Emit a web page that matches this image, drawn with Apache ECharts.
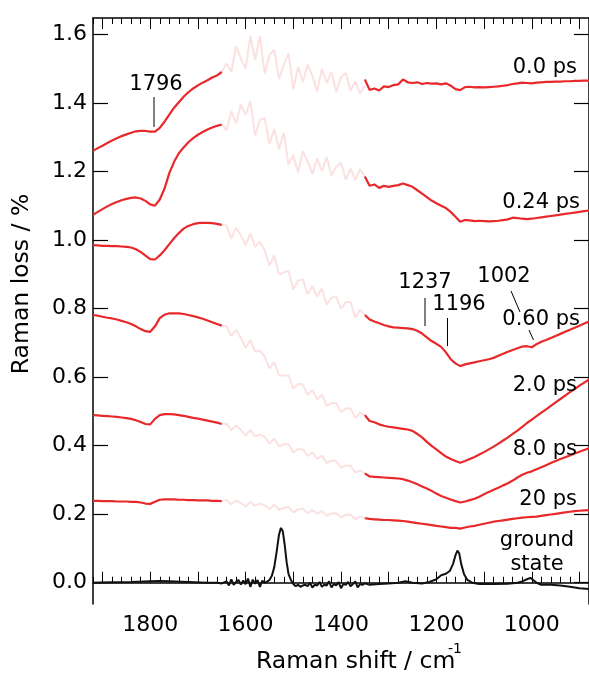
<!DOCTYPE html>
<html>
<head>
<meta charset="utf-8">
<script src="https://cdn.jsdelivr.net/npm/echarts@6/dist/echarts.min.js"></script>
<style>html,body{margin:0;padding:0;background:#fff}#c{width:589px;height:674px}</style>
</head>
<body>
<div id="c"></div>
<script>
// ---- wavenumber grids (cm-1) ----
const xLeft = [1920,1910,1900,1890,1880,1870,1860,1850,1840,1830,1820,1810,1800,1790,1780,1770,1760,1750,1740,1730,1720,1710,1700,1690,1680,1670,1660,1650];
const xMid = [1650,1640,1630,1620,1610,1600,1590,1580,1570,1560,1550,1540,1530,1520,1510,1500,1490,1480,1470,1460,1450,1440,1430,1420,1410,1400,1390,1380,1370,1360,1350];
const xRight = [1350,1340,1330,1320,1310,1300,1290,1280,1270,1260,1250,1240,1230,1220,1210,1200,1190,1180,1170,1160,1150,1140,1130,1120,1110,1100,1090,1080,1070,1060,1050,1040,1030,1020,1010,1000,990,980,970,960,950,940,930,920,910,900,890,880];

// ---- 0.0 ps ----
const ps00Left = [1.260,1.268,1.275,1.283,1.290,1.297,1.303,1.308,1.313,1.317,1.318,1.318,1.316,1.316,1.327,1.345,1.366,1.386,1.402,1.418,1.431,1.442,1.451,1.459,1.466,1.474,1.480,1.490];
const ps00Mid = [1.49,1.515,1.49,1.565,1.53,1.50,1.595,1.525,1.595,1.485,1.54,1.555,1.47,1.51,1.545,1.44,1.505,1.46,1.512,1.479,1.432,1.50,1.458,1.49,1.432,1.475,1.487,1.435,1.463,1.427,1.45];
const ps00Right = [1.468,1.438,1.442,1.436,1.448,1.446,1.452,1.454,1.468,1.460,1.458,1.460,1.455,1.458,1.456,1.457,1.454,1.457,1.450,1.440,1.437,1.446,1.447,1.445,1.446,1.445,1.446,1.447,1.448,1.450,1.452,1.455,1.457,1.459,1.458,1.457,1.459,1.460,1.461,1.461,1.462,1.462,1.463,1.463,1.464,1.464,1.465,1.465];

// ---- 0.24 ps ----
const ps024Left = [1.073,1.082,1.090,1.098,1.105,1.111,1.116,1.120,1.123,1.124,1.121,1.114,1.104,1.100,1.118,1.150,1.195,1.228,1.253,1.270,1.285,1.297,1.307,1.315,1.322,1.328,1.333,1.337];
const ps024Mid = [1.337,1.32,1.375,1.34,1.395,1.365,1.405,1.305,1.35,1.355,1.28,1.323,1.265,1.312,1.22,1.248,1.197,1.258,1.23,1.192,1.238,1.20,1.242,1.188,1.214,1.225,1.176,1.208,1.175,1.207,1.185];
const ps024Right = [1.185,1.158,1.162,1.152,1.158,1.155,1.158,1.160,1.165,1.160,1.155,1.145,1.135,1.125,1.115,1.107,1.100,1.093,1.082,1.068,1.053,1.058,1.057,1.055,1.056,1.055,1.054,1.055,1.056,1.058,1.060,1.065,1.064,1.062,1.061,1.062,1.064,1.066,1.068,1.070,1.072,1.074,1.076,1.078,1.080,1.082,1.084,1.086];

// ---- 0.60 ps ----
const ps060Left = [0.985,0.984,0.983,0.983,0.982,0.982,0.981,0.980,0.978,0.973,0.965,0.954,0.944,0.943,0.955,0.970,0.988,1.005,1.020,1.033,1.041,1.046,1.049,1.050,1.050,1.049,1.047,1.044];
const ps060Mid = [1.044,1.042,1.005,1.035,1.015,0.985,1.02,0.98,0.995,0.97,0.925,0.955,0.90,0.905,0.91,0.855,0.882,0.885,0.841,0.865,0.835,0.858,0.812,0.831,0.835,0.799,0.818,0.82,0.773,0.797,0.781];
const ps060Right = [0.781,0.768,0.762,0.757,0.752,0.748,0.745,0.744,0.743,0.742,0.740,0.735,0.727,0.716,0.705,0.697,0.688,0.672,0.652,0.640,0.632,0.637,0.640,0.643,0.646,0.649,0.652,0.656,0.662,0.668,0.674,0.679,0.684,0.689,0.690,0.687,0.696,0.703,0.708,0.714,0.720,0.726,0.732,0.738,0.744,0.750,0.756,0.762];

// ---- 2.0 ps ----
const ps20Left = [0.781,0.779,0.776,0.773,0.771,0.768,0.764,0.760,0.755,0.748,0.740,0.734,0.732,0.748,0.772,0.782,0.786,0.786,0.786,0.784,0.781,0.778,0.774,0.770,0.765,0.760,0.755,0.750];
const ps20Mid = [0.75,0.748,0.72,0.737,0.715,0.685,0.708,0.674,0.677,0.66,0.625,0.644,0.605,0.604,0.606,0.566,0.58,0.578,0.548,0.562,0.534,0.549,0.516,0.524,0.524,0.498,0.508,0.509,0.481,0.496,0.489];
const ps20Right = [0.489,0.472,0.468,0.462,0.458,0.455,0.453,0.451,0.449,0.447,0.443,0.434,0.424,0.411,0.399,0.389,0.378,0.368,0.361,0.355,0.350,0.355,0.361,0.367,0.374,0.381,0.389,0.397,0.406,0.415,0.424,0.434,0.444,0.455,0.466,0.476,0.486,0.496,0.506,0.516,0.526,0.536,0.546,0.556,0.565,0.575,0.584,0.593];

// ---- 8.0 ps ----
const ps80Left = [0.489,0.488,0.487,0.486,0.485,0.484,0.482,0.480,0.478,0.474,0.469,0.463,0.462,0.478,0.489,0.492,0.492,0.491,0.489,0.487,0.484,0.481,0.479,0.476,0.473,0.470,0.467,0.463];
const ps80Mid = [0.463,0.464,0.445,0.459,0.446,0.429,0.446,0.426,0.433,0.425,0.405,0.421,0.398,0.404,0.405,0.38,0.39,0.389,0.37,0.38,0.362,0.371,0.349,0.356,0.355,0.336,0.342,0.341,0.321,0.328,0.319];
const ps80Right = [0.319,0.310,0.309,0.308,0.307,0.306,0.305,0.304,0.302,0.298,0.293,0.287,0.281,0.275,0.268,0.260,0.253,0.248,0.243,0.238,0.234,0.237,0.241,0.245,0.251,0.258,0.265,0.271,0.277,0.284,0.290,0.298,0.307,0.315,0.321,0.325,0.331,0.337,0.343,0.349,0.355,0.361,0.366,0.371,0.377,0.382,0.387,0.392];

// ---- 20 ps ----
const ps200Left = [0.239,0.239,0.238,0.238,0.238,0.237,0.237,0.237,0.236,0.236,0.234,0.231,0.230,0.236,0.242,0.243,0.243,0.243,0.242,0.242,0.241,0.241,0.240,0.240,0.240,0.239,0.239,0.238];
const ps200Mid = [0.238,0.241,0.229,0.24,0.232,0.223,0.236,0.224,0.231,0.226,0.214,0.228,0.213,0.218,0.221,0.205,0.214,0.216,0.203,0.212,0.201,0.209,0.195,0.202,0.203,0.191,0.198,0.199,0.185,0.193,0.188];
const ps200Right = [0.188,0.186,0.185,0.184,0.183,0.183,0.182,0.181,0.180,0.178,0.176,0.174,0.172,0.170,0.168,0.166,0.164,0.162,0.160,0.160,0.158,0.161,0.164,0.166,0.169,0.172,0.175,0.178,0.180,0.182,0.184,0.186,0.188,0.190,0.191,0.192,0.193,0.195,0.197,0.199,0.201,0.203,0.205,0.207,0.209,0.210,0.211,0.212];

// ---- ground state [wavenumber, value] ----
const groundState = [[1920,0.0],[1880,0.001],[1840,0.002],[1800,0.004],[1780,0.005],[1760,0.004],[1720,0.002],[1680,0.0],[1660,0.0],[1650,-0.002],[1640,0.004],[1635,-0.008],[1630,0.01],[1625,-0.006],[1620,0.002],[1615,0.008],[1610,-0.005],[1605,0.006],[1600,-0.004],[1595,0.012],[1590,-0.012],[1585,0.009],[1580,-0.003],[1575,0.008],[1570,-0.012],[1565,0.006],[1560,0.0],[1555,0.003],[1550,0.008],[1545,0.02],[1540,0.045],[1535,0.09],[1530,0.14],[1526,0.16],[1522,0.15],[1518,0.11],[1514,0.06],[1510,0.025],[1505,0.008],[1500,-0.004],[1495,-0.01],[1490,-0.006],[1485,-0.012],[1480,-0.008],[1475,-0.006],[1470,-0.01],[1465,0.0],[1460,-0.014],[1455,-0.006],[1450,-0.008],[1445,0.002],[1440,-0.012],[1435,-0.006],[1430,-0.008],[1425,0.004],[1420,-0.014],[1415,-0.004],[1410,-0.008],[1405,0.002],[1400,-0.016],[1395,-0.004],[1390,-0.006],[1385,0.002],[1380,-0.01],[1375,-0.004],[1370,0.004],[1365,-0.014],[1360,-0.004],[1355,-0.006],[1350,-0.002],[1340,-0.006],[1320,-0.004],[1300,-0.002],[1280,0.0],[1265,0.004],[1250,0.0],[1230,-0.002],[1215,0.002],[1200,0.01],[1190,0.022],[1180,0.026],[1172,0.034],[1165,0.055],[1160,0.08],[1156,0.094],[1152,0.085],[1148,0.055],[1142,0.025],[1135,0.008],[1125,0.0],[1110,-0.004],[1080,-0.004],[1050,-0.003],[1030,0.0],[1020,0.004],[1010,0.01],[1003,0.014],[997,0.008],[990,0.0],[980,-0.006],[960,-0.006],[940,-0.008],[920,-0.012],[900,-0.016],[880,-0.018]];

// ---- ticks ----
const xLabelTicks = [1000,1200,1400,1600,1800];
const xMajorTicks = [900,1000,1100,1200,1300,1400,1500,1600,1700,1800,1900];
const yTicks = [0,0.2,0.4,0.6,0.8,1.0,1.2,1.4,1.6];

const traces = [
  {name:'0.0 ps', left:ps00Left, mid:ps00Mid, right:ps00Right},
  {name:'0.24 ps', left:ps024Left, mid:ps024Mid, right:ps024Right},
  {name:'0.60 ps', left:ps060Left, mid:ps060Mid, right:ps060Right},
  {name:'2.0 ps', left:ps20Left, mid:ps20Mid, right:ps20Right},
  {name:'8.0 ps', left:ps80Left, mid:ps80Mid, right:ps80Right},
  {name:'20 ps', left:ps200Left, mid:ps200Mid, right:ps200Right}
];

const RED = '#e8282b', PINK = '#fbe1e1', BLACK = '#111';
const FONT = 'DejaVu Sans';
const zip = (xs, ys) => xs.map((x, i) => [x, ys[i]]);

const series = [];
traces.forEach(t => {
  series.push({type:'line', name:t.name+' mid', data:zip(xMid, t.mid), showSymbol:false, lineStyle:{color:PINK, width:2}, z:1, silent:true});
});
traces.forEach(t => {
  series.push({type:'line', name:t.name, data:zip(xLeft, t.left), showSymbol:false, lineStyle:{color:RED, width:2.2}, z:3, silent:true});
  series.push({type:'line', name:t.name+' r', data:zip(xRight, t.right), showSymbol:false, lineStyle:{color:RED, width:2.2}, z:3, silent:true});
});
series.push({type:'line', name:'ground state', data:groundState, showSymbol:false, lineStyle:{color:BLACK, width:2}, z:3, silent:true});

const XMIN = 880, XMAX = 1920, YMIN = -0.0621, YMAX = 1.6476;
const axLine = {show:true, lineStyle:{color:'#000', width:1.5}};
const baseX = {type:'value', min:XMIN, max:XMAX, inverse:true, splitLine:{show:false}, gridIndex:0};

const chart = echarts.init(document.getElementById('c'), null, {renderer:'canvas'});
chart.setOption({
  animation:false,
  backgroundColor:'#fff',
  grid:{left:93, top:18, width:505, height:586},
  xAxis:[
    Object.assign({}, baseX, {position:'bottom', interval:20, axisLine:axLine,
      axisTick:{inside:true, length:6, lineStyle:{color:'#000', width:1}},
      axisLabel:{customValues:xLabelTicks, formatter:v=>String(Math.round(v)), fontFamily:FONT, fontSize:22, color:'#000', margin:10}}),
    Object.assign({}, baseX, {position:'bottom', axisLine:{show:false},
      axisTick:{inside:true, length:11, customValues:xMajorTicks, lineStyle:{color:'#000', width:1}},
      axisLabel:{show:false}}),
    Object.assign({}, baseX, {position:'top', interval:20, axisLine:axLine,
      axisTick:{inside:true, length:6, lineStyle:{color:'#000', width:1}},
      axisLabel:{show:false}}),
    Object.assign({}, baseX, {position:'top', axisLine:{show:false},
      axisTick:{inside:true, length:11, customValues:xMajorTicks, lineStyle:{color:'#000', width:1}},
      axisLabel:{show:false}})
  ],
  yAxis:[
    {type:'value', min:YMIN, max:YMAX, position:'left', splitLine:{show:false}, axisLine:axLine,
      axisTick:{inside:true, length:15, customValues:yTicks, lineStyle:{color:'#000', width:1.2}},
      axisLabel:{customValues:yTicks, formatter:v=>v.toFixed(1), fontFamily:FONT, fontSize:22, color:'#000', margin:6}},
    {type:'value', min:YMIN, max:YMAX, position:'right', splitLine:{show:false}, axisLine:axLine,
      axisTick:{inside:true, length:15, customValues:yTicks, lineStyle:{color:'#000', width:1.2}},
      axisLabel:{show:false}}
  ],
  series: series,
  graphic: []
});

// annotations (pixel layout)
function txt(text, x, y, size, align) {
  return {type:'text', x:x, y:y, z:100, silent:true,
    style:{text:text, fontFamily:FONT, fontSize:size, fill:'#000', textAlign:align||'center', align:align||'center', textVerticalAlign:'middle', verticalAlign:'middle'}};
}
function seg(x1, y1, x2, y2) {
  return {type:'line', z:100, silent:true, shape:{x1:x1, y1:y1, x2:x2, y2:y2}, style:{stroke:'#000', lineWidth:1}};
}
const g = [
  txt('0.0 ps', 577, 68, 21, 'right'),
  txt('0.24 ps', 580, 203, 21, 'right'),
  txt('0.60 ps', 580, 320, 21, 'right'),
  txt('2.0 ps', 577, 386, 21, 'right'),
  txt('8.0 ps', 577, 450, 21, 'right'),
  txt('20 ps', 577, 500, 21, 'right'),
  txt('ground', 537, 541, 21, 'center'),
  txt('state', 537, 565, 21, 'center'),
  txt('1796', 156, 85, 21, 'center'),
  seg(154, 97, 154, 127),
  txt('1237', 425, 283, 21, 'center'),
  seg(425, 298, 425, 326),
  txt('1196', 459, 305, 21, 'center'),
  seg(447.5, 318, 447.5, 346),
  txt('1002', 504, 277, 21, 'center'),
  seg(511, 291, 520, 312),
  seg(529, 330, 533.5, 340),
  {type:'text', x:22, y:284, rotation:Math.PI/2, z:100, silent:true,
    style:{text:'Raman loss / %', fontFamily:FONT, fontSize:23.5, fill:'#000', textAlign:'center', align:'center', textVerticalAlign:'middle', verticalAlign:'middle'}},
  txt('Raman shift / cm', 256, 662, 23.5, 'left'),
  txt('-1', 448, 649, 14, 'left')
];
chart.setOption({graphic: g});
</script>
</body>
</html>
